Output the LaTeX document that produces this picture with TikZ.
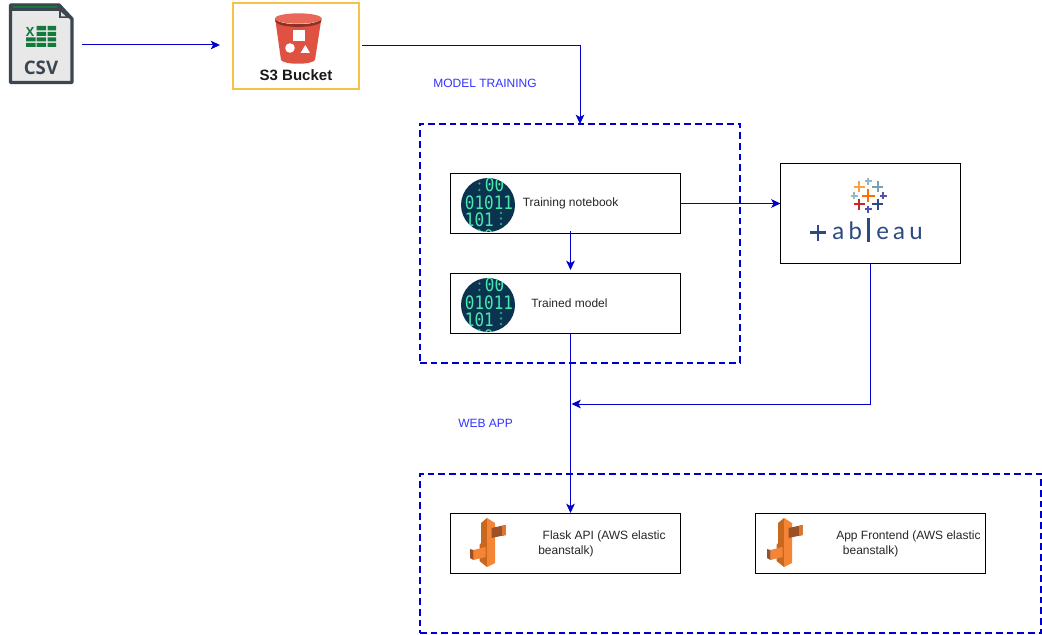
\documentclass[tikz,border=0pt]{standalone}
\usepackage{fontspec}
\setmainfont{Liberation Sans}
\newfontfamily\tabfont[LetterSpace=18]{Lato}
\newfontfamily\digfont{DejaVu Sans Mono}
\newfontfamily\csvfont{Open Sans}
\usetikzlibrary{arrows.meta}
\renewcommand{\arraystretch}{0.78}
\definecolor{flow}{HTML}{0000CC}
\definecolor{lbl}{HTML}{3333FF}
\definecolor{bin}{HTML}{0A3350}
\definecolor{dig}{HTML}{4BE8AE}
\definecolor{csvd}{HTML}{3B4650}
\definecolor{csvg}{HTML}{137A3C}
\definecolor{tabb}{HTML}{2C4A80}
\definecolor{sred}{HTML}{DF5242}
\definecolor{sdark}{HTML}{8C3123}
\definecolor{stop}{HTML}{E8685A}
\definecolor{syel}{HTML}{F8C14A}
\definecolor{ebA}{HTML}{F58536}
\definecolor{ebB}{HTML}{C8681F}
\definecolor{ebC}{HTML}{9D5025}
\tikzset{
  conn/.style={draw=flow,line width=.75pt,-{Stealth[length=7pt,width=6.5pt,inset=1.8pt]}},
  grp/.style={draw=flow,line width=1.5pt,dash pattern=on 5pt off 3pt,inner sep=0,outer sep=0},
  wbox/.style={draw=black,line width=.75pt,fill=white,inner sep=0,outer sep=0},
  lab/.style={font=\fontsize{9pt}{11.25pt}\selectfont,text=black!85,inner sep=0,align=left},
  head/.style={font=\fontsize{9pt}{11pt}\selectfont,text=lbl,inner sep=0},
  digit/.style={text=dig,inner sep=0},
}
\newcommand{\binicon}[2]{%
  \begin{scope}[yshift=#1*-.75pt]
    \fill[bin] (488,205) circle [radius=27];
    \begin{scope}
      \clip (488,205) circle [radius=27];
      \node[digit] (#2) at (489,212.5) {\scalebox{1}[1.16]{\digfont\fontsize{12pt}{9.4pt}\selectfont
        \begin{tabular}{@{}l@{}}\hspace*{15pt}00\\01011\\101\\\hspace*{7pt}10\end{tabular}}};
      \fill[dig!60!bin] (479.3,179) circle [radius=1.3] (479.3,183.5) circle [radius=1.3] (479.3,190) circle [radius=1.3]
        (501,213) circle [radius=1.3] (501,218.5) circle [radius=1.3] (501,224) circle [radius=1.3];
    \end{scope}
  \end{scope}}
\newcommand{\stalk}[1]{%
  \begin{scope}[xshift=#1*.75pt]
    \fill[ebB] (481,523)--(487,518)--(487,567)--(479.5,561)--(479.5,545)--(481,543)--cycle;
    \fill[ebA] (487,518)--(495,523)--(495,563)--(487,567)--cycle;
    \fill[ebC] (491.5,528)--(505.5,525)--(505.5,535)--(491.5,538)--cycle;
    \fill[ebA!70!ebC] (502,526)--(505.5,525)--(505.5,535)--(502,536)--cycle;
    \fill[ebA] (473.5,550)--(485.5,547)--(485.5,557)--(473.5,560)--cycle;
    \fill[ebC] (470,549)--(473.5,550)--(473.5,560)--(470,558)--cycle;
  \end{scope}}
\newcommand{\tcross}[4]{\draw[#4,line width=1.3pt] (#1-#3,#2)--(#1+#3,#2) (#1,#2-#3)--(#1,#2+#3);}
\begin{document}
\begin{tikzpicture}[x=.75pt,y=-.75pt]
\useasboundingbox (0,0) rectangle (1042,635);
\fill[white] (0,0) rectangle (1042,635);

% groups
\node[grp,minimum width=240pt,minimum height=179.25pt] (model) at (580,243.5) {};
\node[grp,minimum width=465.75pt,minimum height=119.25pt] (web) at (730.5,553.5) {};

% csv icon
\node[inner sep=0,minimum width=48pt,minimum height=60.75pt] (csv) at (41.5,44) {};
\draw[csvd,fill=black!9,line width=2.6pt,line join=round] (10.5,5) -- (59,5) -- (72,19) -- (72,82.5) -- (10.5,82.5) -- cycle;
\fill[csvd] (10.5,4) -- (59,4) -- (61,11) -- (10.5,11) -- cycle;
\fill[csvd] (59,5) -- (59,18) -- (72,18) -- cycle;
\fill[white!88!black] (61,12) -- (61,16.5) -- (66,16.5) -- cycle;
\draw[csvg,line width=1.5pt] (13,7.5) -- (57,7.5);
\node[inner sep=0,text=csvg,font=\csvfont\bfseries\fontsize{9.5pt}{10pt}\selectfont] (xmark) at (30,31.5) {X};
\fill[csvg] (36.5,26) rectangle (46,30.5) (47.5,26) rectangle (56,30.5)
  (36.5,32) rectangle (46,36) (47.5,32) rectangle (56,36)
  (26,37.5) rectangle (35.5,41.5) (36.5,37.5) rectangle (46,41.5) (47.5,37.5) rectangle (56,41.5)
  (26,43) rectangle (35.5,47) (36.5,43) rectangle (46,47) (47.5,43) rectangle (56,47);
\node[inner sep=0,text=csvd,font=\csvfont\bfseries\fontsize{14pt}{14pt}\selectfont] (csvtxt) at (41,68) {CSV};

% s3
\node[draw=syel,line width=1.5pt,fill=white,inner sep=0,outer sep=0,minimum width=94.5pt,minimum height=64.5pt] (s3) at (296,46) {};
\fill[sred] (275.5,21) .. controls (280,27) and (316,27) .. (321,21) -- (315,60) .. controls (312,65) and (284,65) .. (281,60) -- cycle;
\fill[sdark] (275,19) .. controls (280,26) and (316,26) .. (321.5,19) -- (321,22) .. controls (316,28.5) and (280,28.5) .. (275.5,22) -- cycle;
\fill[stop] (298.3,18.5) ellipse [x radius=23.5,y radius=5.2];
\fill[white] (293.3,30.5) rectangle (305,41.5);
\fill[white] (290,48) circle [radius=4.8];
\fill[white] (300.5,53) -- (310,53) -- (305.3,45) -- cycle;
\node[inner sep=0,text=black!90,font=\bfseries\fontsize{11.25pt}{12pt}\selectfont] (s3txt) at (296,75) {S3 Bucket};

% headings
\node[head,anchor=west] (hmodel) at (433,83) {MODEL TRAINING};
\node[head,anchor=west] (hweb) at (458,423) {WEB APP};

% boxes
\node[wbox,minimum width=172.5pt,minimum height=45pt] (nb) at (565,203.5) {};
\node[wbox,minimum width=172.5pt,minimum height=45pt] (tm) at (565,303.5) {};
\node[wbox,minimum width=135pt,minimum height=75pt] (tab) at (870.5,213.5) {};
\node[wbox,minimum width=172.5pt,minimum height=45pt] (fl) at (565,543.5) {};
\node[wbox,minimum width=172.5pt,minimum height=45pt] (fe) at (870,543.5) {};

\binicon{0}{binA}
\binicon{100}{binB}
\stalk{0}
\stalk{297}

\node[lab,anchor=west] (nbt) at (522.5,203) {Training notebook};
\node[lab,anchor=west] (tmt) at (531,303) {Trained model};
\node[lab,anchor=west] (flt) at (538,543.5) {\hspace*{3.3pt}Flask API (AWS elastic\\beanstalk)};
\node[lab,anchor=west] (fet) at (836,543.5) {App Frontend (AWS elastic\\\hspace*{5pt}beanstalk)};

% tableau logo
\tcross{868.3}{195.7}{6.5}{orange!85!red}
\tcross{859}{186.7}{5.5}{orange!75!white}
\tcross{868.3}{181}{3.5}{cyan!35!gray!75}
\tcross{877.7}{186.7}{5.5}{cyan!35!gray}
\tcross{854.3}{195.7}{3.5}{cyan!35!gray!75}
\tcross{883}{195.7}{3.5}{blue!35!gray}
\tcross{859}{204.3}{5.5}{red!75!black!85!white}
\tcross{868.3}{209.3}{3.5}{blue!35!gray}
\tcross{877.7}{204.3}{5.5}{tabb}
\draw[tabb,line width=1.9pt] (810,232.7)--(826,232.7) (818,224.7)--(818,240.7) (868.7,218)--(868.7,242);
\node[inner sep=0,text=tabb,anchor=base west,font=\tabfont\fontsize{18pt}{18pt}\selectfont] (tab1) at (832,239) {ab};
\node[inner sep=0,text=tabb,anchor=base west,font=\tabfont\fontsize{18pt}{18pt}\selectfont] (tab2) at (876,239) {eau};

% connector helpers
\coordinate (csvout) at (82,45);
\coordinate (s3in) at (220,45);
\coordinate (s3out) at (362,46);
\coordinate (nbout) at (570.5,231);
\coordinate (tmin) at (570.5,270);
\coordinate (tmout) at (570.5,334);
\coordinate (flin) at (570.5,513);
\coordinate (join) at (571.5,404);

% connectors
\draw[conn] (csvout) -- (s3in);
\draw[conn] (s3out) -| (model.north);
\draw[conn] (nb.east) -- (nb.east -| tab.west);
\draw[conn] (nbout) -- (tmin);
\draw[conn] (tmout) -- (flin);
\draw[conn] (tab.south) |- (join);
\end{tikzpicture}
\end{document}
